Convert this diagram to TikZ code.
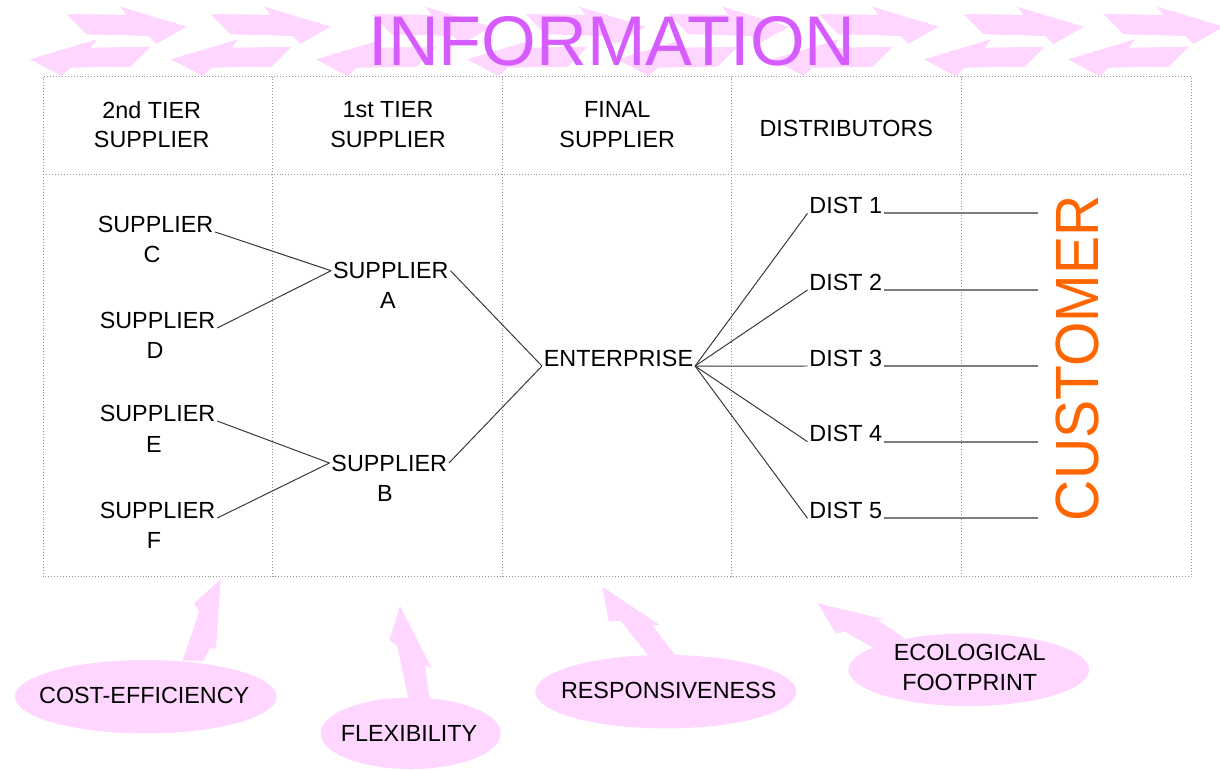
\documentclass[tikz,border=0pt]{standalone}
\usepackage{fontspec}
\setmainfont{Liberation Sans}
\usetikzlibrary{calc}
\definecolor{pinkfill}{RGB}{255,214,255}
\definecolor{infoviolet}{RGB}{214,92,255}
\definecolor{custorange}{RGB}{255,102,0}
\definecolor{gridgray}{RGB}{150,150,150}
\definecolor{linkdark}{RGB}{55,55,55}
\definecolor{tailgray}{RGB}{125,125,125}

\begin{document}
\begin{tikzpicture}[x=0.025cm,y=-0.025cm,
  lbl/.style={inner sep=0pt, outer sep=1.4pt, font=\fontsize{16.6}{20.8}\selectfont, align=center},
  grid/.style={gridgray, line width=0.6pt, dash pattern=on 0.6pt off 1.5pt},
  link/.style={linkdark, line width=0.7pt},
  tail/.style={tailgray, line width=1.2pt},
  blob/.style={fill=pinkfill}]
\useasboundingbox (0,0) rectangle (1220,769);
\clip (0,0) rectangle (1220,769);

% information flow: pairs of block arrows, right-pointing above, left-pointing below
\foreach \t/\n in {30/120, 171/264, 316/425, 467/579, 617/722, 772/872, 924/1017, 1068/1157} {
  \fill[blob] (\n-53.4,14) -- (\n+6.7,15) -- (\n,6.7) -- (\n+66.8,26.7)
    -- (\n+36.4,44) -- (\n+28.5,36) -- (\n-33.6,34.3) -- cycle;
  \fill[blob] (\t,59.3) -- (\t+67.2,39.3) -- (\t+60.5,47.7) -- (\t+120.6,46.7)
    -- (\t+100.8,66.7) -- (\t+40.7,67.7) -- (\t+31.6,76) -- cycle;
}
\node[inner sep=0pt, text=infoviolet, font=\fontsize{50}{50}\selectfont] (info) at (612,41) {INFORMATION};

% table grid
\draw[grid] (43.3,76.5) rectangle (1191.7,576.7);
\draw[grid] (43.3,174.3) -- (1191.7,174.3);
\foreach \x in {272.7,502.7,731.7,961.7} \draw[grid] (\x,76.5) -- (\x,576.7);

% column headers
\node[lbl] (h1) at (151.7,124.7) {2nd TIER\\SUPPLIER};
\node[lbl] (h2) at (388,124.7) {1st TIER\\SUPPLIER};
\node[lbl] (h3) at (617.2,124.7) {FINAL\\SUPPLIER};
\node[lbl] (h4) at (846.3,128.3) {DISTRIBUTORS};

% second tier suppliers
\node[lbl] (sc) at (155.5,224) {SUPPLIER};
\node[lbl] (scl) at (152,254) {C};
\node[lbl] (sd) at (157.5,320) {SUPPLIER};
\node[lbl] (sdl) at (155,350) {D};
\node[lbl] (se) at (157.5,413) {SUPPLIER};
\node[lbl] (sel) at (154,444) {E};
\node[lbl] (sf) at (157.5,510) {SUPPLIER};
\node[lbl] (sfl) at (154,540) {F};

% first tier suppliers
\node[lbl] (sa) at (390.8,270.7) {SUPPLIER};
\node[lbl] (sal) at (388,300) {A};
\node[lbl] (sb) at (389.2,463) {SUPPLIER};
\node[lbl] (sbl) at (385,493) {B};

% final supplier
\node[lbl] (ent) at (618.5,358) {ENTERPRISE};

% distributors
\node[lbl, anchor=base west] (d1) at (807.5,213.3) {DIST 1};
\node[lbl, anchor=base west] (d2) at (807.5,290) {DIST 2};
\node[lbl, anchor=base west] (d3) at (807.5,366) {DIST 3};
\node[lbl, anchor=base west] (d4) at (807.5,441.7) {DIST 4};
\node[lbl, anchor=base west] (d5) at (807.5,518.3) {DIST 5};

% links
\draw[link] (sc.base east) -- (sa.west);
\draw[link] (sd.base east) -- (sa.west);
\draw[link] (se.base east) -- (sb.west);
\draw[link] (sf.base east) -- (sb.west);
\draw[link] (sa.east) -- (ent.base west);
\draw[link] (sb.east) -- (ent.base west);
\foreach \d in {d1,d2,d3,d4,d5} \draw[link] (ent.base east) -- (\d.base west);

% lines towards the customer
\coordinate (t1) at (1038,213.3);
\coordinate (t2) at (1038,290);
\coordinate (t3) at (1038,366);
\coordinate (t4) at (1038,441.7);
\coordinate (t5) at (1038,518.3);
\foreach \i in {1,...,5} \draw[tail] (d\i.base east) -- (t\i);

\node[inner sep=0pt, text=custorange, font=\fontsize{40.6}{40.6}\selectfont, rotate=90] (cust) at (1077,358.3) {\scalebox{1}[1.07]{CUSTOMER}};

% performance goals
\fill[blob] (220.7,579.3) -- (194,603.3) -- (199.3,611.7) -- (182.7,660.7)
  -- (203.3,660.7) -- (210,648.3) -- (216,648.3) -- cycle;
\fill[blob] (145.8,696.7) ellipse [x radius=3.27cm, y radius=0.9175cm];
\node[lbl] (cost) at (144.2,695) {COST-EFFICIENCY};

\fill[blob] (400,606) -- (389.3,640) -- (397.3,646) -- (408.3,698.3)
  -- (429.3,698.3) -- (425,665) -- (431.7,668.3) -- cycle;
\fill[blob] (410.7,733.3) ellipse [x radius=2.25cm, y radius=0.8925cm];
\node[lbl] (flex) at (409,733.3) {FLEXIBILITY};

\fill[blob] (602.3,586.7) -- (608.8,621.7) -- (620.3,620.7) -- (648.2,655)
  -- (675,655) -- (652,625) -- (659.7,625) -- cycle;
\fill[blob] (665.8,691.7) ellipse [x radius=3.2625cm, y radius=0.9175cm];
\node[lbl] (resp) at (668.7,690.7) {RESPONSIVENESS};

\fill[blob] (817.7,603.3) -- (884.3,619.3) -- (877.8,620) -- (904.6,638.3)
  -- (874,648.3) -- (845.3,631.7) -- (835.7,633.3) -- cycle;
\fill[blob] (968.7,669.7) ellipse [x radius=3.0075cm, y radius=0.9075cm];
\node[lbl] (eco) at (969.7,667.5) {ECOLOGICAL\\FOOTPRINT};
\end{tikzpicture}
\end{document}
